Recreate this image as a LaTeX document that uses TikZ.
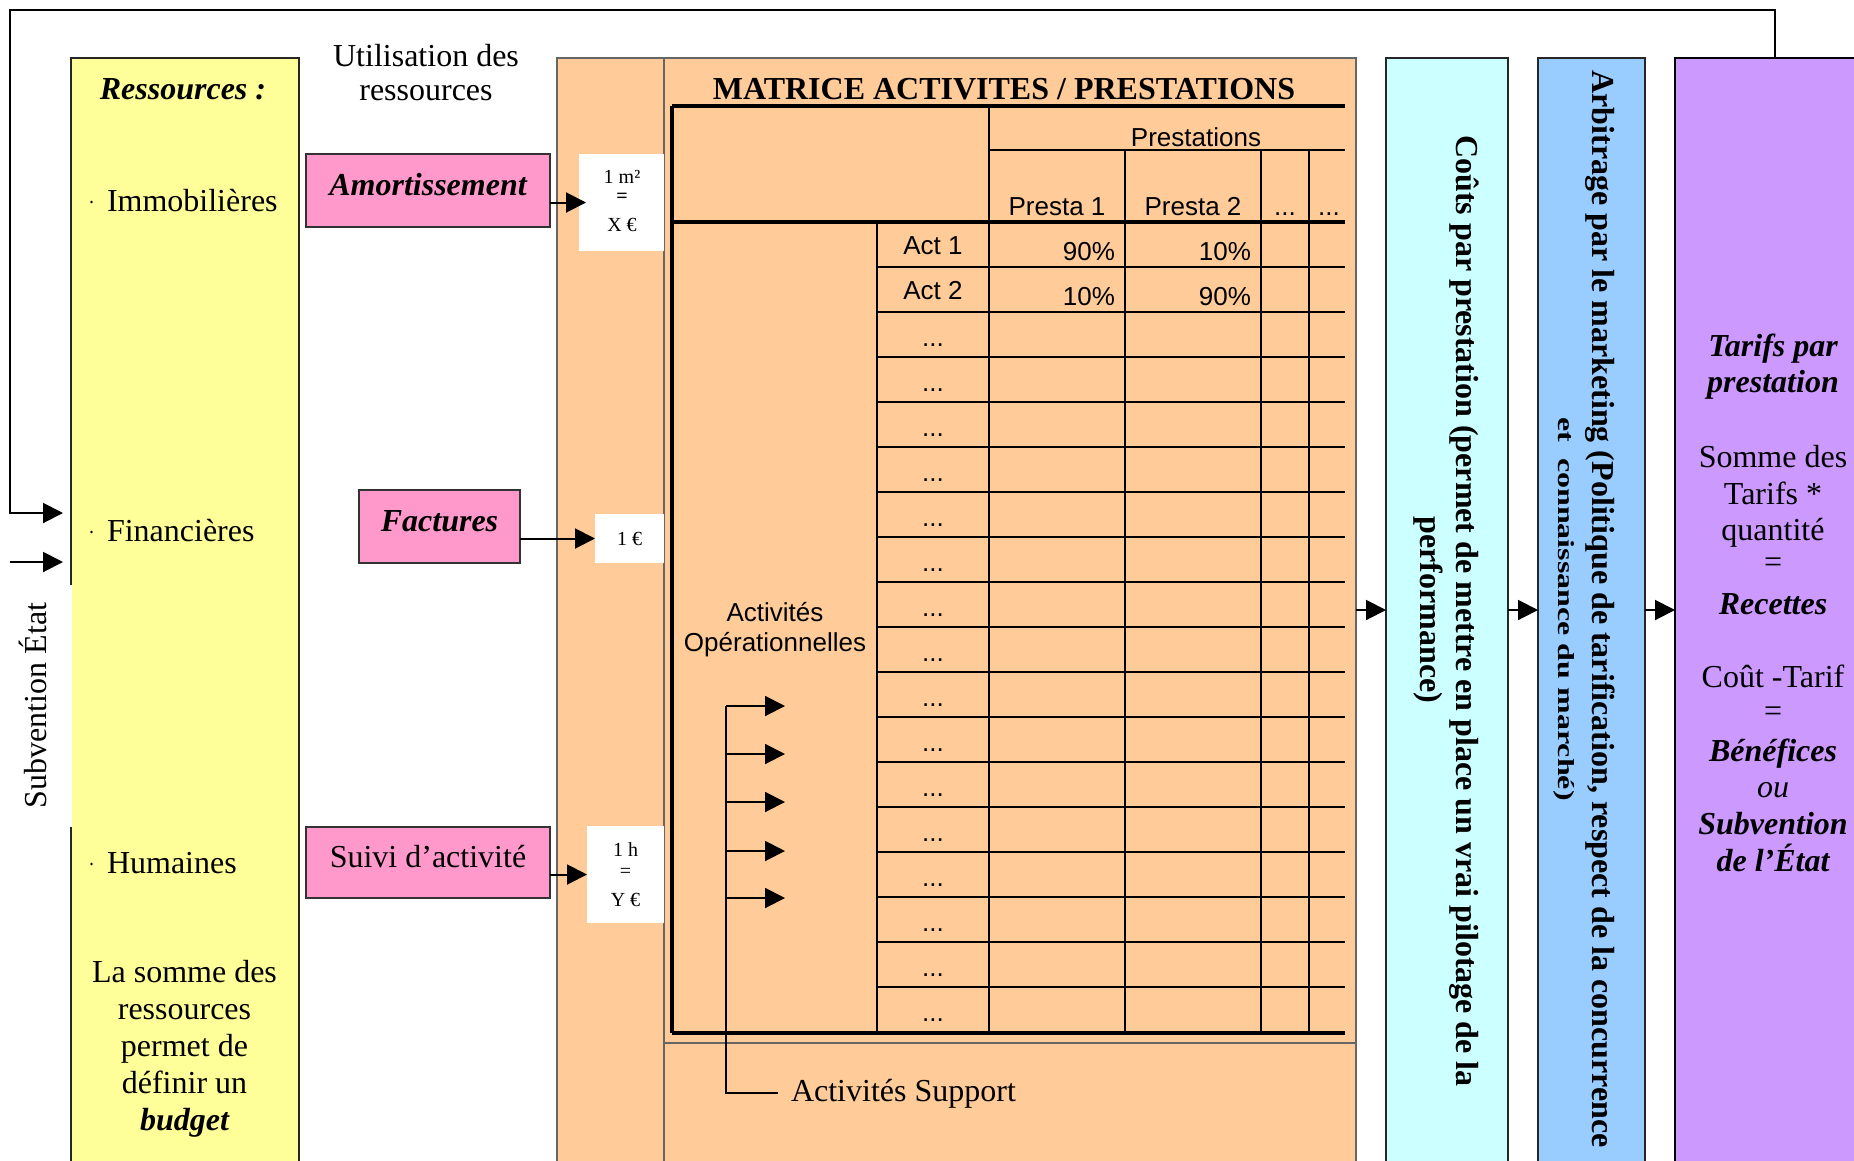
\documentclass[tikz,border=0pt]{standalone}
\usepackage{fontspec}
\setmainfont{Liberation Serif}
\setsansfont{Liberation Sans}
\usepackage{graphicx}
\usetikzlibrary{arrows.meta}
\definecolor{cYellow}{HTML}{FFFF99}
\definecolor{cOrange}{HTML}{FFCC99}
\definecolor{cPink}{HTML}{FF99CC}
\definecolor{cCyan}{HTML}{CCFFFF}
\definecolor{cBlue}{HTML}{99CCFF}
\definecolor{cPurple}{HTML}{CC99FF}
\newcommand\fsz[1]{\fontsize{#1}{#1}\selectfont}
\begin{document}
\begin{tikzpicture}[x=1pt,y=-1pt,
  every node/.style={inner sep=0pt, outer sep=0pt},
  panel/.style={anchor=north west, line width=2pt, draw=black!85},
  orangepanel/.style={panel, fill=cOrange, draw=black!60, line width=1.5pt},
  pinkbox/.style={panel, fill=cPink, draw=black!80, line width=2.5pt,
     text height=22pt, text depth=12pt, font=\fsz{32}},
  whitebox/.style={anchor=north west, fill=white},
  txt/.style={font=\fsz{32}, anchor=base},
  bi/.style={font=\bfseries\itshape\fsz{32}},
  bd/.style={font=\bfseries\fsz{32}},
  tab/.style={font=\sffamily\fsz{26}, anchor=base},
  small/.style={font=\fsz{20}, anchor=base},
  conn/.style={line width=2pt, -{Triangle[length=20pt,width=20pt]}},
  plain/.style={line width=2pt},
  tabthick/.style={line width=3.2pt},
  tabthin/.style={line width=2pt}
]
\begin{scope}
\clip (0,0) rectangle (1854,1160);

% ---------- main columns ----------
\node[panel, fill=cYellow, minimum width=228pt, minimum height=1150pt] (res) at (71,58) {};
\fill[white] (0,585) rectangle (72,827);
\node[orangepanel, minimum width=107pt, minimum height=1150pt] (pa) at (557,58) {};
\node[orangepanel, minimum width=692pt, minimum height=1150pt] (mat) at (664,58) {};
\draw[black!60, line width=1.5pt] (664,1043) -- (1356,1043);
\node[panel, fill=cCyan, minimum width=122pt, minimum height=1150pt] (cout) at (1386,58) {};
\node[panel, fill=cBlue, minimum width=107pt, minimum height=1150pt] (arb) at (1538,58) {};
\node[panel, fill=cPurple, draw=black, line width=2.5pt, minimum width=200pt, minimum height=1150pt] (tarif) at (1675,58) {};

% ---------- left column texts ----------
\node[txt, bi] (resT) at (183,99) {Ressources~:};
\fill (91.5,202) circle (1.3);
\fill (91.5,532) circle (1.3);
\fill (91.5,864) circle (1.3);
\node[txt, anchor=base west] (imm) at (107,211) {Immobilières};
\node[txt, anchor=base west] (fin) at (107,541) {Financières};
\node[txt, anchor=base west] (hum) at (107,873) {Humaines};
\node[txt] (b1) at (184.5,982) {La somme des};
\node[txt] (b2) at (184.5,1019) {ressources};
\node[txt] (b3) at (184.5,1056) {permet de};
\node[txt] (b4) at (184.5,1093) {définir un};
\node[txt, bi] (b5) at (184.5,1130) {budget};

\node[txt, rotate=90] (sub) at (46,705.5) {Subvention État};

\node[txt] (u1) at (426,66) {Utilisation des};
\node[txt] (u2) at (426,100) {ressources};

% ---------- pink boxes ----------
\node[pinkbox, minimum width=244pt, minimum height=73pt] (amort) at (306,154) {\bfseries\itshape Amortissement};
\node[pinkbox, minimum width=161pt, minimum height=73pt] (fact) at (359,490) {\bfseries\itshape Factures};
\node[pinkbox, minimum width=244pt, minimum height=71pt] (suivi) at (306,827) {Suivi d’activité};

% ---------- white unit boxes ----------
\node[whitebox, minimum width=85pt, minimum height=97pt] (m2) at (579,154) {};
\node[small] (m2a) at (622,183.3) {1 m²};
\node[small, font=\bfseries\fsz{20}] (m2b) at (622,202.5) {=};
\node[small] (m2c) at (622,231) {X €};
\node[whitebox, minimum width=69pt, minimum height=49pt, font=\fsz{20}] (eur) at (595,514) {1 €};
\node[whitebox, minimum width=77pt, minimum height=97pt] (hbox) at (587,826) {};
\node[small] (ha) at (625.5,856.7) {1 h};
\node[small] (hb) at (625.5,877.5) {=};
\node[small] (hc) at (625.5,906) {Y €};

\draw[conn] (amort.east |- m2) -- ([xshift=7pt]m2.west);
\draw[conn] (fact.east |- eur) -- (eur.west);
\draw[conn] (suivi.east |- hbox) -- (hbox.west);

% ---------- matrix ----------
\node[txt, bd] (title) at (1004,99) {MATRICE ACTIVITES / PRESTATIONS};
\draw[tabthin] (989,106) -- (989,1033);
\draw[tabthin] (877,222) -- (877,1033);
\foreach \xx in {1125,1261,1309} \draw[tabthin] (\xx,150) -- (\xx,1033);
\draw[tabthin] (989,150) -- (1345,150);
\foreach \i in {1,...,17} \draw[tabthin] (877,{222+45*\i}) -- (1345,{222+45*\i});
\draw[tabthick] (672,106) -- (1345,106);
\draw[tabthick] (672,222) -- (1345,222);
\draw[tabthick] (672,1033) -- (1345,1033);
\draw[tabthick] (672,106) -- (672,1033);

\node[tab] (prest) at (1196,146) {Prestations};
\node[tab] (ps1) at (1057,215) {Presta 1};
\node[tab] (ps2) at (1193,215) {Presta 2};
\node[tab] (ps3) at (1285,215) {...};
\node[tab] (ps4) at (1329,215) {...};
\node[tab] (act1) at (933,254) {Act 1};
\node[tab] (act2) at (933,299) {Act 2};
\node[tab, anchor=base east] (v11) at (1115,260) {90\%};
\node[tab, anchor=base east] (v12) at (1251,260) {10\%};
\node[tab, anchor=base east] (v21) at (1115,305) {10\%};
\node[tab, anchor=base east] (v22) at (1251,305) {90\%};
\foreach \i in {2,...,17} \node[tab] (dots\i) at (933,{222+45*\i+34}) {...};
\node[tab] (ao1) at (775,621) {Activités};
\node[tab] (ao2) at (775,651) {Opérationnelles};

% ---------- support activities ----------
\node[txt, anchor=base west] (supp) at (791,1101) {Activités Support};
\coordinate (spt) at (726,706);
\draw[plain] ([xshift=-13pt]supp.west) -| (spt);
\foreach \yy [count=\i] in {706,754,802,851,898} {
  \coordinate (br\i) at (726,\yy);
  \coordinate (bt\i) at (785,\yy);
  \draw[conn] (br\i) -- (bt\i);
}

% ---------- right columns texts ----------
\node[txt, bd, rotate=-90] (ct1) at (1456,611) {Coûts par prestation (permet de mettre en place un vrai pilotage de la};
\node[txt, bd, rotate=-90] (ct2) at (1420,610) {performance)};
\node[txt, bd, rotate=-90] (at1) at (1592,609) {Arbitrage par le marketing (Politique de tarification, respect de la concurrence};
\node[txt, bd, rotate=-90] (at2) at (1558,609) {\scalebox{1}[0.72]{et\ \ connaissance du marché)}};

\node[txt, bi] (t1) at (1773,356.5) {Tarifs par};
\node[txt, bi] (t2) at (1773,392) {prestation};
\node[txt] (t3) at (1773,467.5) {Somme des};
\node[txt] (t4) at (1773,504.5) {Tarifs *};
\node[txt] (t5) at (1773,540) {quantité};
\node[txt] (t6) at (1773,572) {=};
\node[txt, bi] (t7) at (1773,614.5) {Recettes};
\node[txt] (t8) at (1773,687.5) {Coût -Tarif};
\node[txt] (t9) at (1773,721) {=};
\node[txt, bi] (t10) at (1773,761.5) {Bénéfices};
\node[txt, font=\itshape\fsz{32}] (t11) at (1773,797) {ou};
\node[txt, bi] (t12) at (1773,834.5) {Subvention};
\node[txt, bi] (t13) at (1773,871) {de l’État};

% ---------- flow arrows ----------
\coordinate (fy) at (0,610);
\draw[conn] (mat.east |- fy) -- (cout.west |- fy);
\draw[conn] (cout.east |- fy) -- (arb.west |- fy);
\draw[conn] (arb.east |- fy) -- (tarif.west |- fy);

% ---------- feedback loop ----------
\coordinate (corner) at (10,10);
\coordinate (c1) at (63,513);
\draw[conn] (tarif.north) |- (corner) |- (c1);
\coordinate (s0) at (10,562);
\coordinate (s1) at (63,562);
\draw[conn] (s0) -- (s1);
\end{scope}
\pgfresetboundingbox
\useasboundingbox (0,0) rectangle (1854,1160);
\end{tikzpicture}
\end{document}
